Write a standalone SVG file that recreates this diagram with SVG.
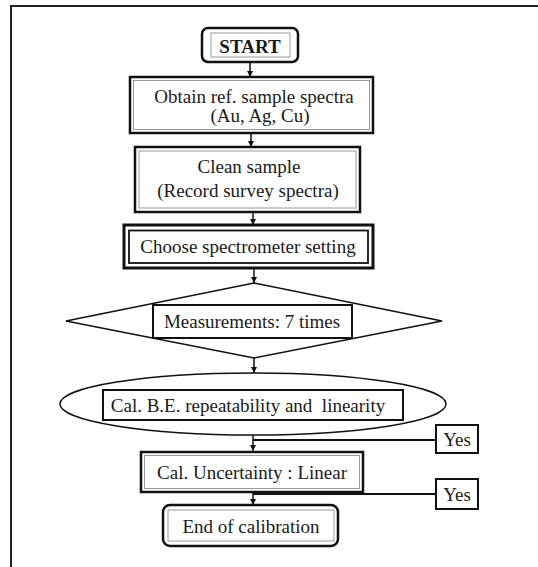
<svg xmlns="http://www.w3.org/2000/svg" width="538" height="567" viewBox="0 0 538 567">
<defs>
<marker id="ah" viewBox="0 0 10 10" refX="10" refY="5" markerWidth="6" markerHeight="6" orient="auto" markerUnits="userSpaceOnUse">
<path d="M0,0 L10,5 L0,10 z" fill="#111"/>
</marker>
</defs>
<style>
text{font-family:"Liberation Serif","Times New Roman",serif;font-size:19px;fill:#1a1a1a;text-anchor:middle}
.bold{font-weight:bold}
.thick{fill:#fff;stroke:#111;stroke-width:2.5}
.thin{fill:none;stroke:#999;stroke-width:1}
.blk{fill:#fff;stroke:#111;stroke-width:2}
.blkn{fill:none;stroke:#111;stroke-width:1.8}
.shape{fill:#fff;stroke:#111;stroke-width:1.5}
.conn{fill:none;stroke:#111;stroke-width:1.5}
.conn2{fill:none;stroke:#111;stroke-width:2}
.frame{fill:none;stroke:#222;stroke-width:2}
</style>
<rect x="0" y="0" width="538" height="567" fill="#fff"/>
<path class="frame" d="M11,570 V6 H540"/>

<g id="start">
<rect class="thick" x="202" y="28" width="96" height="34" rx="6"/>
<rect class="thin" x="211" y="33" width="79" height="24"/>
<text class="bold" x="250" y="53">START</text>
</g>

<g id="obtain">
<rect class="thick" x="130" y="77" width="243" height="56"/>
<rect class="thin" x="133.5" y="80.5" width="236" height="49"/>
<text x="254" y="103">Obtain ref. sample spectra</text>
<text x="260" y="122">(Au, Ag, Cu)</text>
</g>

<g id="clean">
<rect class="thick" x="135" y="147" width="225" height="65"/>
<rect class="thin" x="139" y="151" width="217" height="57"/>
<text x="249" y="173">Clean sample</text>
<text x="248" y="197">(Record survey spectra)</text>
</g>

<g id="choose">
<rect class="thick" x="124" y="225" width="249" height="43" style="stroke-width:3"/>
<rect class="blkn" x="129" y="230.5" width="239" height="32.5"/>
<text x="248" y="253">Choose spectrometer setting</text>
</g>

<g id="measure">
<polygon class="shape" points="254,283 442,321 254,358 66,321"/>
<rect class="blk" x="153" y="305" width="199" height="33"/>
<text x="252" y="328">Measurements: 7 times</text>
</g>

<g id="calbe">
<ellipse class="shape" cx="253" cy="404" rx="193" ry="31"/>
<rect class="blk" x="103" y="390" width="300" height="30"/>
<text x="248" y="412" xml:space="preserve">Cal. B.E. repeatability and  linearity</text>
</g>

<g id="yes1">
<rect class="blk" x="436" y="425" width="42" height="28"/>
<text x="457" y="446">Yes</text>
</g>

<g id="uncert">
<rect class="thick" x="141" y="452" width="222" height="40"/>
<rect class="thin" x="144.5" y="455.5" width="215" height="33"/>
<text x="252" y="479">Cal. Uncertainty : Linear</text>
</g>

<g id="yes2">
<rect class="blk" x="436" y="479" width="42" height="30"/>
<text x="457" y="501">Yes</text>
</g>

<g id="end">
<rect class="thick" x="163" y="505" width="175" height="41" rx="7"/>
<rect class="thin" x="168" y="510" width="166" height="31"/>
<text x="251" y="533">End of calibration</text>
</g>

<g id="connectors">
<line class="conn" x1="250" y1="62" x2="250" y2="77" marker-end="url(#ah)"/>
<line class="conn" x1="251" y1="133" x2="251" y2="147" marker-end="url(#ah)"/>
<line class="conn" x1="253" y1="212" x2="253" y2="225" marker-end="url(#ah)"/>
<line class="conn" x1="254" y1="268" x2="254" y2="283" marker-end="url(#ah)"/>
<line class="conn" x1="254" y1="358" x2="254" y2="373" marker-end="url(#ah)"/>
<line class="conn" x1="253" y1="435" x2="253" y2="451" marker-end="url(#ah)"/>
<line class="conn2" x1="436" y1="440" x2="253" y2="440"/>
<line class="conn" x1="253" y1="492" x2="253" y2="505" marker-end="url(#ah)"/>
<line class="conn2" x1="436" y1="494" x2="253" y2="494"/>
</g>
</svg>
